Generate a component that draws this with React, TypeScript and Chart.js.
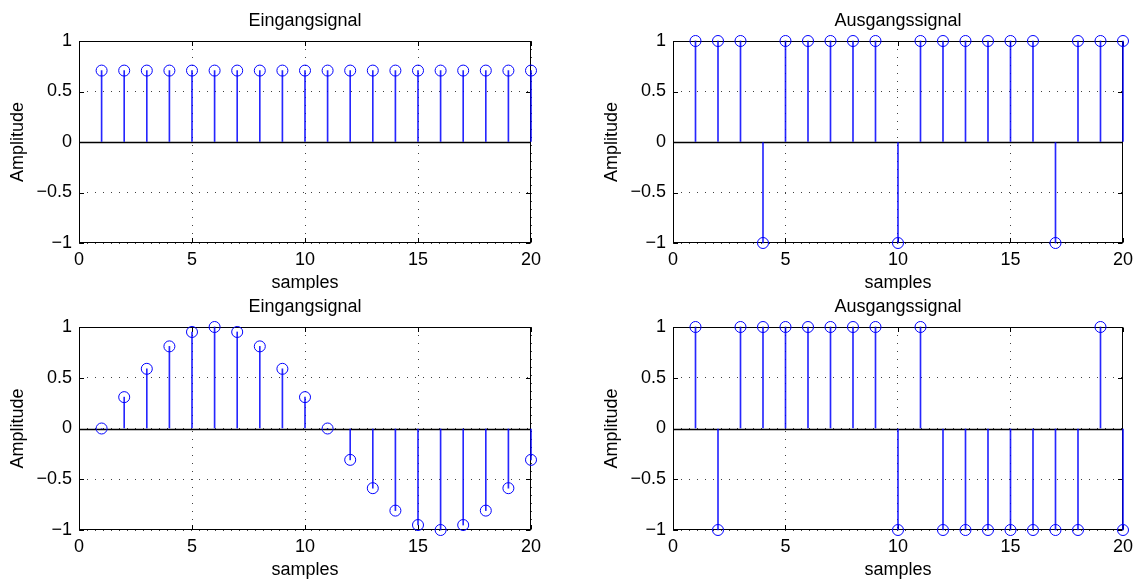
import React, { useEffect, useRef } from 'react';
import { Chart, registerables } from 'chart.js';

Chart.register(...registerables);

// ---------- data ----------
const samples = [1, 2, 3, 4, 5, 6, 7, 8, 9, 10, 11, 12, 13, 14, 15, 16, 17, 18, 19, 20];

const input1 = [0.707, 0.707, 0.707, 0.707, 0.707, 0.707, 0.707, 0.707, 0.707, 0.707,
  0.707, 0.707, 0.707, 0.707, 0.707, 0.707, 0.707, 0.707, 0.707, 0.707];
const output1 = [1, 1, 1, -1, 1, 1, 1, 1, 1, -1, 1, 1, 1, 1, 1, 1, -1, 1, 1, 1];

const input2 = [0, 0.309, 0.588, 0.809, 0.951, 1, 0.951, 0.809, 0.588, 0.309,
  0, -0.309, -0.588, -0.809, -0.951, -1, -0.951, -0.809, -0.588, -0.309];
const output2 = [1, -1, 1, 1, 1, 1, 1, 1, 1, -1, 1, -1, -1, -1, -1, -1, -1, -1, 1, -1];

const xTicks = [0, 5, 10, 15, 20];
const yTicks = [-1, -0.5, 0, 0.5, 1];
const xRange = [0, 20];
const yRange = [-1, 1];

const inputTitle = 'Eingangsignal';
const outputTitle = 'Ausgangssignal';
const xLabel = 'samples';
const yLabel = 'Amplitude';

// ---------- styles ----------
const FONT = "'Liberation Sans', Arial, Helvetica, sans-serif";
const FONT_SIZE = 18;
const STEM = '#0000ff';

type Panel = {
  title: string;
  values: number[];
  left: number;
  top: number;
  w: number;
  h: number;
  area: { l: number; t: number; r: number; b: number };
};

const panels: Panel[] = [
  { title: inputTitle, values: input1, left: 0, top: 0, w: 569, h: 290, area: { l: 79, t: 41, r: 531, b: 243 } },
  { title: outputTitle, values: output1, left: 569, top: 0, w: 570, h: 290, area: { l: 104, t: 41, r: 557, b: 243 } },
  { title: inputTitle, values: input2, left: 0, top: 290, w: 569, h: 289, area: { l: 79, t: 37, r: 531, b: 240 } },
  { title: outputTitle, values: output2, left: 569, top: 290, w: 570, h: 289, area: { l: 104, t: 37, r: 557, b: 240 } },
];

const fmt = (v: number) => (v < 0 ? '\u2212' + String(Math.abs(v)) : String(v));

const framePlugin = {
  id: 'matlabFrame',
  beforeDatasetsDraw(chart: any) {
    const { ctx, chartArea: a, scales } = chart;
    const x = scales.x;
    const y = scales.y;
    ctx.save();
    ctx.strokeStyle = '#000';
    ctx.lineWidth = 1;
    const L = Math.round(a.left) + 0.5;
    const R = Math.round(a.right) - 0.5;
    const T = Math.round(a.top) + 0.5;
    const B = Math.round(a.bottom) - 0.5;
    ctx.strokeRect(L, T, R - L, B - T);
    const len = 4.5;
    ctx.beginPath();
    xTicks.forEach((v) => {
      const px = Math.round(x.getPixelForValue(v)) + 0.5;
      ctx.moveTo(px, B);
      ctx.lineTo(px, B - len);
      ctx.moveTo(px, T);
      ctx.lineTo(px, T + len);
    });
    yTicks.forEach((v) => {
      const py = Math.round(y.getPixelForValue(v)) + 0.5;
      ctx.moveTo(L, py);
      ctx.lineTo(L + len, py);
      ctx.moveTo(R, py);
      ctx.lineTo(R - len, py);
    });
    ctx.stroke();
    // zero baseline (MATLAB stem baseline)
    const py0 = Math.round(y.getPixelForValue(0)) + 0.5;
    ctx.beginPath();
    ctx.moveTo(x.getPixelForValue(xRange[0]), py0);
    ctx.lineTo(x.getPixelForValue(xRange[1]), py0);
    ctx.lineWidth = 1.3;
    ctx.stroke();
    ctx.restore();
  },
  afterDraw(chart: any, _args: any, opts: any) {
    const { ctx, chartArea: a } = chart;
    ctx.save();
    ctx.fillStyle = '#000';
    ctx.font = `${FONT_SIZE}px ${FONT}`;
    ctx.textAlign = 'center';
    ctx.textBaseline = 'alphabetic';
    const cx = (a.left + a.right) / 2;
    ctx.fillText(opts.title, cx, a.top - 15);
    ctx.fillText(xLabel, cx, a.bottom + 45);
    ctx.translate(a.left - 56, (a.top + a.bottom) / 2);
    ctx.rotate(-Math.PI / 2);
    ctx.fillText(yLabel, 0, 0);
    ctx.restore();
  },
};

function StemPanel({ p }: { p: Panel }) {
  const ref = useRef<HTMLCanvasElement | null>(null);
  useEffect(() => {
    if (!ref.current) return;
    const pts = samples.map((s, i) => ({ x: s, y: p.values[i] }));
    const chart = new Chart(ref.current, {
      type: 'scatter',
      data: {
        datasets: [
          {
            type: 'bar',
            data: pts,
            backgroundColor: 'rgba(0,0,255,0.85)',
            borderWidth: 0,
            barThickness: 1,
            order: 2,
            clip: false,
          } as any,
          {
            type: 'scatter',
            data: pts,
            pointStyle: 'circle',
            pointRadius: 5.5,
            pointBorderWidth: 1,
            pointBorderColor: STEM,
            pointBackgroundColor: 'rgba(0,0,0,0)',
            order: 1,
            clip: false,
          } as any,
        ],
      },
      options: {
        animation: false,
        responsive: false,
        devicePixelRatio: 1,
        events: [],
        layout: {
          padding: { left: 0, top: p.area.t, right: p.w - p.area.r, bottom: 0 },
        },
        plugins: {
          legend: { display: false },
          tooltip: { enabled: false },
          title: { display: false },
          matlabFrame: { title: p.title },
        } as any,
        scales: {
          x: {
            type: 'linear',
            min: xRange[0],
            max: xRange[1],
            offset: false,
            afterFit: (s: any) => {
              s.height = p.h - p.area.b;
            },
            grid: { offset: false, color: 'rgba(0,0,0,0.75)', lineWidth: 1, drawTicks: false },
            border: { display: false, dash: [1, 7] },
            ticks: {
              stepSize: 5,
              autoSkip: false,
              maxRotation: 0,
              padding: 6,
              color: '#000',
              font: { family: FONT, size: FONT_SIZE },
              callback: (v: any) => fmt(Number(v)),
            },
          },
          y: {
            type: 'linear',
            min: yRange[0],
            max: yRange[1],
            afterFit: (s: any) => {
              s.width = p.area.l;
            },
            grid: { offset: false, color: 'rgba(0,0,0,0.75)', lineWidth: 1, drawTicks: false },
            border: { display: false, dash: [1, 7] },
            ticks: {
              stepSize: 0.5,
              autoSkip: false,
              padding: 7,
              color: '#000',
              font: { family: FONT, size: FONT_SIZE },
              callback: (v: any) => fmt(Number(v)),
            },
          },
        },
      } as any,
      plugins: [framePlugin],
    });
    return () => chart.destroy();
  }, [p]);
  return (
    <canvas
      ref={ref}
      width={p.w}
      height={p.h}
      style={{ position: 'absolute', left: p.left, top: p.top, width: p.w, height: p.h }}
    />
  );
}

export default function App() {
  return (
    <div style={{ position: 'absolute', left: 0, top: 0, width: 1139, height: 579, background: '#fff' }}>
      {panels.map((p, i) => (
        <StemPanel key={i} p={p} />
      ))}
    </div>
  );
}
